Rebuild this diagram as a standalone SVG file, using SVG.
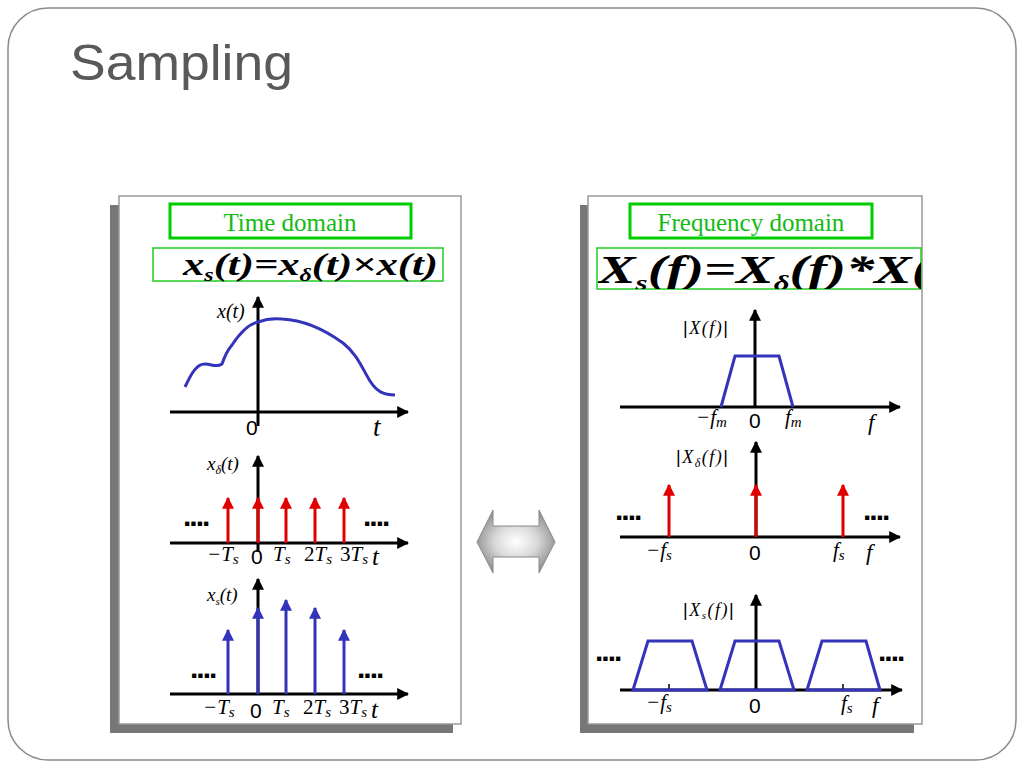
<svg xmlns="http://www.w3.org/2000/svg" width="1024" height="768" viewBox="0 0 1024 768">
<style>
.ax{stroke:#000;stroke-width:3;fill:none}
.red{stroke:#e00000;stroke-width:3;fill:none}
.blu{stroke:#3333bb;stroke-width:3;fill:none}
.m{font-family:"Liberation Serif",serif;font-style:italic;fill:#000}
.s{font-family:"Liberation Sans",Arial,sans-serif;fill:#000}
.dots{font-family:"Liberation Sans",Arial,sans-serif;font-weight:bold;font-size:30px;fill:#000;letter-spacing:-2px}
.gbox{fill:#fff;stroke:#00cc00;stroke-width:3}
.gbox2{fill:#fff;stroke:#22cc22;stroke-width:1.5}
.gt{font-family:"Liberation Serif",serif;font-size:25px;fill:#11bb11;text-anchor:middle}
.panel{fill:#fff;stroke:#999;stroke-width:1.5}
.shadow{fill:#777}
.eq{font-family:"Liberation Serif",serif;font-style:italic;font-weight:bold;fill:#000}
.ab{font-family:"Liberation Serif",serif;font-style:italic;fill:#000;font-size:18px;letter-spacing:1.5px}
.bar{font-family:"Liberation Sans",Arial,sans-serif;font-style:normal;fill:#000}
</style>
<defs>
<marker id="ah" viewBox="0 0 10 10" refX="9" refY="5" markerWidth="4" markerHeight="4" orient="auto" markerUnits="strokeWidth"><path d="M0,0 L10,5 L0,10 z" fill="#000"/></marker>
<marker id="ahr" viewBox="0 0 10 10" refX="9" refY="5" markerWidth="4" markerHeight="4" orient="auto" markerUnits="strokeWidth"><path d="M0,0 L10,5 L0,10 z" fill="#e00000"/></marker>
<marker id="ahb" viewBox="0 0 10 10" refX="9" refY="5" markerWidth="4" markerHeight="4" orient="auto" markerUnits="strokeWidth"><path d="M0,0 L10,5 L0,10 z" fill="#3333bb"/></marker>
<radialGradient id="dg" cx="0.5" cy="0.5" r="0.55">
<stop offset="0" stop-color="#ffffff"/>
<stop offset="0.5" stop-color="#d8d8d8"/>
<stop offset="1" stop-color="#8c8c8c"/>
</radialGradient>
<clipPath id="cr"><rect x="598" y="248" width="323" height="41"/></clipPath>
</defs>
<rect width="1024" height="768" fill="#fff"/>
<rect x="8" y="8" width="1008" height="752" rx="40" ry="40" fill="none" stroke="#8a8a8a" stroke-width="1.5"/>
<text x="70" y="80" font-family="'Liberation Sans',Arial,sans-serif" font-size="50" fill="#595959" textLength="223" lengthAdjust="spacingAndGlyphs">Sampling</text>

<g id="left-panel">
<rect class="shadow" x="110" y="205" width="343" height="528"/>
<rect class="panel" x="119" y="196" width="342" height="528"/>
<rect class="gbox" x="170" y="204" width="241" height="34"/>
<text class="gt" x="290" y="231">Time domain</text>
<rect class="gbox2" x="153" y="248" width="290" height="33"/>
<text class="eq" x="183" y="275" font-size="32" textLength="255" lengthAdjust="spacingAndGlyphs">x<tspan font-size="18" dy="6">s</tspan><tspan dy="-6">(t)=x</tspan><tspan font-size="18" dy="6">δ</tspan><tspan dy="-6">(t)×x(t)</tspan></text>
</g>

<g id="right-panel">
<rect class="shadow" x="580" y="205" width="334" height="528"/>
<rect class="panel" x="588" y="196" width="334" height="528"/>
<rect class="gbox" x="630" y="204" width="242" height="34"/>
<text class="gt" x="751" y="231">Frequency domain</text>
<rect class="gbox2" x="597" y="248" width="324" height="41"/>
<g clip-path="url(#cr)">
<text class="eq" x="598" y="283" font-size="40" textLength="370" lengthAdjust="spacingAndGlyphs">X<tspan font-size="22" dy="7">s</tspan><tspan dy="-7">(f)=X</tspan><tspan font-size="22" dy="7">δ</tspan><tspan dy="-7">(f)*X(f)</tspan></text>
</g>
</g>

<g id="center-arrow">
<path d="M477,542 L493,510 L493,526 L539,526 L539,510 L555,542 L539,573 L539,557 L493,557 L493,573 Z" fill="url(#dg)" stroke="#8a8a8a" stroke-width="1"/>
</g>

<g id="plot-xt">
<g class="connectors">
<line class="ax" x1="170" y1="412" x2="408" y2="412" marker-end="url(#ah)"/>
<line class="ax" x1="258" y1="426" x2="258" y2="297" marker-end="url(#ah)"/>
</g>
<path class="blu" d="M185,387 C192,372 197,364 205,364 C212,364 216,368 222,364 C224,358 226,352 232,345 C240,333 248,324 258,322 C266,319 272,318 282,319 C305,320 325,330 343,343 C357,354 362,368 370,381 C377,392 384,395 395,395"/>
<text class="m" x="217" y="318" font-size="20">x(t)</text>
<text class="s" x="246" y="435" font-size="21">0</text>
<text class="m" x="373" y="436" font-size="27">t</text>
</g>

<g id="plot-xdelta">
<g class="connectors">
<line class="ax" x1="170" y1="543" x2="408" y2="543" marker-end="url(#ah)"/>
<line class="ax" x1="258" y1="552" x2="258" y2="456" marker-end="url(#ah)"/>
<line class="red" x1="228" y1="543" x2="228" y2="498" marker-end="url(#ahr)"/>
<line class="red" x1="258" y1="543" x2="258" y2="498" marker-end="url(#ahr)"/>
<line class="red" x1="286" y1="543" x2="286" y2="498" marker-end="url(#ahr)"/>
<line class="red" x1="315" y1="543" x2="315" y2="498" marker-end="url(#ahr)"/>
<line class="red" x1="344" y1="543" x2="344" y2="498" marker-end="url(#ahr)"/>
</g>
<text class="dots" x="183" y="526">....</text>
<text class="dots" x="363" y="526">....</text>
<text class="m" x="207" y="470" font-size="19">x<tspan font-size="12" dy="4">δ</tspan><tspan dy="-4">(t)</tspan></text>
<text class="m" x="207" y="561" font-size="21">−T<tspan font-size="15" dy="3">s</tspan></text>
<text class="s" x="251" y="564" font-size="21">0</text>
<text class="m" x="273" y="561" font-size="21">T<tspan font-size="15" dy="3">s</tspan></text>
<text class="m" x="304" y="561" font-size="21"><tspan font-style="normal">2</tspan>T<tspan font-size="15" dy="3">s</tspan></text>
<text class="m" x="340" y="561" font-size="21"><tspan font-style="normal">3</tspan>T<tspan font-size="15" dy="3">s</tspan></text>
<text class="m" x="372" y="565" font-size="25">t</text>
</g>

<g id="plot-xs">
<g class="connectors">
<line class="ax" x1="170" y1="694" x2="408" y2="694" marker-end="url(#ah)"/>
<line class="ax" x1="258" y1="694" x2="258" y2="579" marker-end="url(#ah)"/>
<line class="blu" x1="228" y1="694" x2="228" y2="630" marker-end="url(#ahb)"/>
<line class="blu" x1="258" y1="694" x2="258" y2="608" marker-end="url(#ahb)"/>
<line class="blu" x1="286" y1="694" x2="286" y2="600" marker-end="url(#ahb)"/>
<line class="blu" x1="315" y1="694" x2="315" y2="608" marker-end="url(#ahb)"/>
<line class="blu" x1="344" y1="694" x2="344" y2="630" marker-end="url(#ahb)"/>
</g>
<text class="dots" x="190" y="678">....</text>
<text class="dots" x="357" y="678">....</text>
<text class="m" x="207" y="601" font-size="19">x<tspan font-size="11" dy="4">s</tspan><tspan dy="-4">(t)</tspan></text>
<text class="m" x="203" y="714" font-size="21">−T<tspan font-size="15" dy="3">s</tspan></text>
<text class="s" x="250" y="718" font-size="21">0</text>
<text class="m" x="272" y="714" font-size="21">T<tspan font-size="15" dy="3">s</tspan></text>
<text class="m" x="303" y="714" font-size="21"><tspan font-style="normal">2</tspan>T<tspan font-size="15" dy="3">s</tspan></text>
<text class="m" x="339" y="714" font-size="21"><tspan font-style="normal">3</tspan>T<tspan font-size="15" dy="3">s</tspan></text>
<text class="m" x="371" y="718" font-size="25">t</text>
</g>

<g id="plot-Xf">
<g class="connectors">
<line class="ax" x1="620" y1="407" x2="900" y2="407" marker-end="url(#ah)"/>
<line class="ax" x1="755" y1="407" x2="755" y2="310" marker-end="url(#ah)"/>
</g>
<path class="blu" d="M721,407 L735,356 L779,356 L793,407"/>
<text class="ab" x="683" y="334"><tspan class="bar">|</tspan>X(f)<tspan class="bar">|</tspan></text>
<text class="m" x="696" y="424" font-size="21">−f<tspan font-size="15" dy="3">m</tspan></text>
<text class="s" x="749" y="428" font-size="21">0</text>
<text class="m" x="785" y="424" font-size="21">f<tspan font-size="15" dy="3">m</tspan></text>
<text class="m" x="868" y="430" font-size="23">f</text>
</g>

<g id="plot-Xdelta">
<g class="connectors">
<line class="ax" x1="620" y1="537" x2="900" y2="537" marker-end="url(#ah)"/>
<line class="ax" x1="756" y1="537" x2="756" y2="442" marker-end="url(#ah)"/>
<line class="red" x1="669" y1="537" x2="669" y2="485" marker-end="url(#ahr)"/>
<line class="red" x1="756" y1="537" x2="756" y2="485" marker-end="url(#ahr)"/>
<line class="red" x1="843" y1="537" x2="843" y2="485" marker-end="url(#ahr)"/>
</g>
<text class="dots" x="615" y="520">....</text>
<text class="dots" x="863" y="520">....</text>
<text class="ab" x="676" y="463"><tspan class="bar">|</tspan>X<tspan font-size="12" dy="4">δ</tspan><tspan dy="-4">(f)</tspan><tspan class="bar">|</tspan></text>
<text class="m" x="646" y="557" font-size="21">−f<tspan font-size="15" dy="3">s</tspan></text>
<text class="s" x="749" y="560" font-size="21">0</text>
<text class="m" x="833" y="557" font-size="21">f<tspan font-size="15" dy="3">s</tspan></text>
<text class="m" x="866" y="560" font-size="23">f</text>
</g>

<g id="plot-Xs">
<g class="connectors">
<line class="ax" x1="620" y1="690" x2="902" y2="690" marker-end="url(#ah)"/>
<line class="ax" x1="756" y1="690" x2="756" y2="595" marker-end="url(#ah)"/>
<line x1="669" y1="684" x2="669" y2="690" stroke="#000" stroke-width="1.5"/>
<line x1="843" y1="684" x2="843" y2="690" stroke="#000" stroke-width="1.5"/>
</g>
<path class="blu" d="M633,690 L648,641 L692,641 L707,690 Z"/>
<path class="blu" d="M720,690 L735,641 L779,641 L794,690 Z"/>
<path class="blu" d="M807,690 L822,641 L866,641 L880,690 Z"/>
<text class="dots" x="595" y="661">....</text>
<text class="dots" x="878" y="661">....</text>
<text class="ab" x="683" y="616"><tspan class="bar">|</tspan>X<tspan font-size="11" dy="3">s</tspan><tspan dy="-3">(f)</tspan><tspan class="bar">|</tspan></text>
<text class="m" x="646" y="709" font-size="21">−f<tspan font-size="15" dy="3">s</tspan></text>
<text class="s" x="749" y="713" font-size="21">0</text>
<text class="m" x="841" y="710" font-size="21">f<tspan font-size="15" dy="3">s</tspan></text>
<text class="m" x="872" y="713" font-size="23">f</text>
</g>
</svg>
